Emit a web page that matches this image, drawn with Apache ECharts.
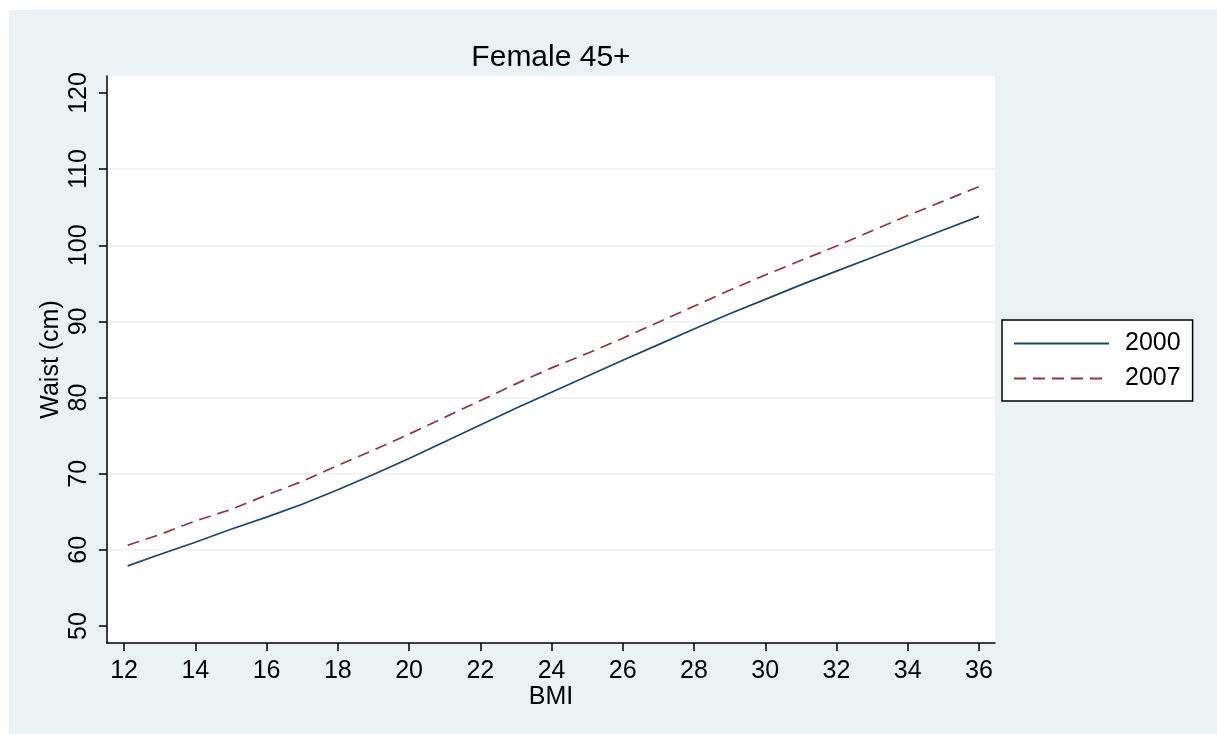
<!DOCTYPE html>
<html>
<head>
<meta charset="utf-8">
<title>Female 45+</title>
<script src="https://cdn.jsdelivr.net/npm/echarts@6/dist/echarts.min.js"></script>
<style>
  html, body { margin: 0; padding: 0; background: #ffffff; }
  #page { position: relative; width: 1217px; height: 734px; background: #ffffff; overflow: hidden; }
  #chart { position: absolute; left: 9px; top: 10px; width: 1208px; height: 724px; background: #eaf2f3; }
</style>
</head>
<body>
<div id="page"><div id="chart"></div></div>
<script>
// BMI values at which the fitted waist curves are sampled
const bmi = [12.1, 13, 14, 15, 16, 17, 18, 19, 20, 21, 22, 23, 24, 25, 26, 27, 28, 29, 30, 31, 32, 33, 34, 35, 36];

// Fitted waist circumference (cm), women aged 45+
const waist2000 = [57.9, 59.4, 61.0, 62.7, 64.3, 66.0, 67.9, 69.9, 72.0, 74.2, 76.4, 78.6, 80.7, 82.8, 84.9, 86.95, 89.0, 91.0, 92.9, 94.8, 96.6, 98.4, 100.2, 102.0, 103.8];
const waist2007 = [60.6, 62.0, 63.8, 65.3, 67.2, 69.0, 71.1, 73.1, 75.2, 77.4, 79.6, 81.8, 83.9, 85.8, 87.8, 89.9, 92.0, 94.1, 96.1, 98.0, 99.9, 101.9, 103.9, 105.8, 107.7];

const seriesNames = ['2000', '2007'];
const xTicks = [12, 14, 16, 18, 20, 22, 24, 26, 28, 30, 32, 34, 36];
const yTicks = [50, 60, 70, 80, 90, 100, 110, 120];
const yGridLines = [60, 70, 80, 90, 100, 110];

const FONT = '"Liberation Sans", Arial, Helvetica, sans-serif';
const pairs = (xs, ys) => xs.map((x, i) => [x, ys[i]]);

const chart = echarts.init(document.getElementById('chart'), null, { renderer: 'canvas' });

chart.setOption({
  backgroundColor: 'transparent',
  animation: false,
  textStyle: { fontFamily: FONT, color: '#000' },
  title: {
    text: 'Female 45+',
    left: 537,
    top: 28,
    textAlign: 'center',
    textStyle: { fontFamily: FONT, fontSize: 30, fontWeight: 'normal', color: '#000' }
  },
  grid: {
    left: 98, top: 66, width: 888, height: 567,
    show: true, backgroundColor: '#ffffff', borderWidth: 0,
    containLabel: false
  },
  legend: {
    orient: 'vertical',
    left: 993, top: 310,
    padding: [10, 12, 9, 11],
    itemGap: 8,
    itemWidth: 95, itemHeight: 14,
    backgroundColor: '#ffffff',
    borderColor: '#000000', borderWidth: 1.5, borderRadius: 0,
    itemStyle: { opacity: 0 },
    textStyle: { fontFamily: FONT, fontSize: 25, color: '#000', lineHeight: 27, padding: [0, 0, 0, 11] },
    data: seriesNames
  },
  xAxis: {
    type: 'value',
    min: 11.52, max: 36.45,
    name: 'BMI', nameLocation: 'middle', nameGap: 42, nameMoveOverlap: false,
    nameTextStyle: { fontFamily: FONT, fontSize: 25, color: '#000' },
    axisLine: { show: true, onZero: false, lineStyle: { color: '#000', width: 1.5 } },
    axisTick: { show: true, length: 8, customValues: xTicks, lineStyle: { color: '#000', width: 1.5 } },
    axisLabel: { customValues: xTicks, fontFamily: FONT, fontSize: 25, color: '#000', margin: 16 },
    splitLine: { show: false }
  },
  yAxis: [
    {
      type: 'value',
      min: 47.77, max: 122.23,
      name: 'Waist (cm)', nameLocation: 'middle', nameGap: 43, nameMoveOverlap: false,
      nameTextStyle: { fontFamily: FONT, fontSize: 25, color: '#000' },
      axisLine: { show: true, onZero: false, lineStyle: { color: '#000', width: 1.5 } },
      axisTick: { show: true, length: 8, customValues: yTicks, lineStyle: { color: '#000', width: 1.5 } },
      axisLabel: { customValues: yTicks, rotate: 90, fontFamily: FONT, fontSize: 25, color: '#000', margin: 15 },
      splitLine: { show: false }
    },
    {
      // gridlines only, at the inner ticks
      type: 'value',
      min: 47.77, max: 122.23,
      position: 'left',
      axisLine: { show: false },
      axisTick: { show: false, customValues: yGridLines },
      axisLabel: { show: false, customValues: yGridLines },
      splitLine: { show: true, lineStyle: { color: '#eaf2f3', width: 1.5 } }
    }
  ],
  series: [
    {
      name: seriesNames[0],
      type: 'line',
      data: pairs(bmi, waist2000),
      symbol: 'none',
      z: 3,
      lineStyle: { color: '#1a476f', width: 1.7, type: 'solid' },
      itemStyle: { color: '#1a476f' }
    },
    {
      name: seriesNames[1],
      type: 'line',
      data: pairs(bmi, waist2007),
      symbol: 'none',
      z: 3,
      lineStyle: { color: '#90353b', width: 1.7, type: [12, 7] },
      itemStyle: { color: '#90353b' }
    }
  ]
});
</script>
</body>
</html>
